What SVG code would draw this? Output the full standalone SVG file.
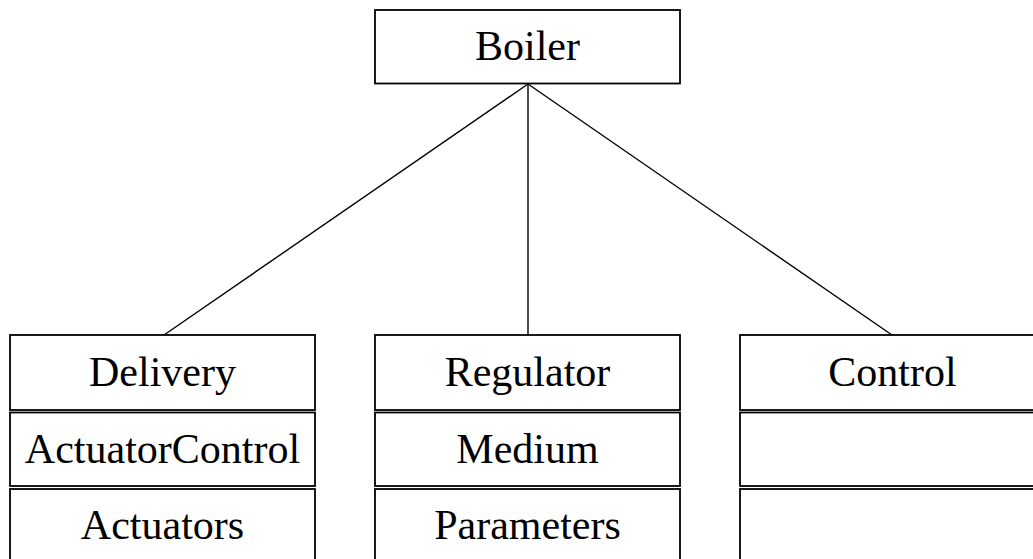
<svg xmlns="http://www.w3.org/2000/svg" width="1033" height="559" viewBox="0 0 1033 559">
  <style>
    .box { fill: #ffffff; stroke: #000000; stroke-width: 1.8; }
    .edge { stroke: #000000; stroke-width: 1.4; fill: none; }
    .label { font-family: "Liberation Serif", "Times New Roman", serif; font-size: 42px; fill: #000000; text-anchor: middle; }
  </style>
  <rect width="1033" height="559" fill="#ffffff"/>

  <g id="connectors">
    <line class="edge" x1="528" y1="84" x2="164" y2="335"/>
    <line class="edge" x1="528" y1="84" x2="528" y2="335"/>
    <line class="edge" x1="528" y1="84" x2="892" y2="335"/>
  </g>

  <g id="boiler">
    <rect class="box" x="375" y="10" width="305" height="73.5"/>
    <text class="label" x="527.5" y="59.5">Boiler</text>
  </g>

  <g id="delivery">
    <rect class="box" x="10" y="335" width="305" height="75"/>
    <text class="label" x="162.5" y="386">Delivery</text>
    <rect class="box" x="10" y="412.5" width="305" height="73.5"/>
    <text class="label" x="162.5" y="463">ActuatorControl</text>
    <rect class="box" x="10" y="489" width="305" height="80"/>
    <text class="label" x="162.5" y="539">Actuators</text>
  </g>

  <g id="regulator">
    <rect class="box" x="375" y="335" width="305" height="75"/>
    <text class="label" x="527.5" y="386">Regulator</text>
    <rect class="box" x="375" y="412.5" width="305" height="73.5"/>
    <text class="label" x="527.5" y="463">Medium</text>
    <rect class="box" x="375" y="489" width="305" height="80"/>
    <text class="label" x="527.5" y="539">Parameters</text>
  </g>

  <g id="control">
    <rect class="box" x="740" y="335" width="305" height="75"/>
    <text class="label" x="892.5" y="386">Control</text>
    <rect class="box" x="740" y="412.5" width="305" height="73.5"/>
    <rect class="box" x="740" y="489" width="305" height="80"/>
  </g>
</svg>
